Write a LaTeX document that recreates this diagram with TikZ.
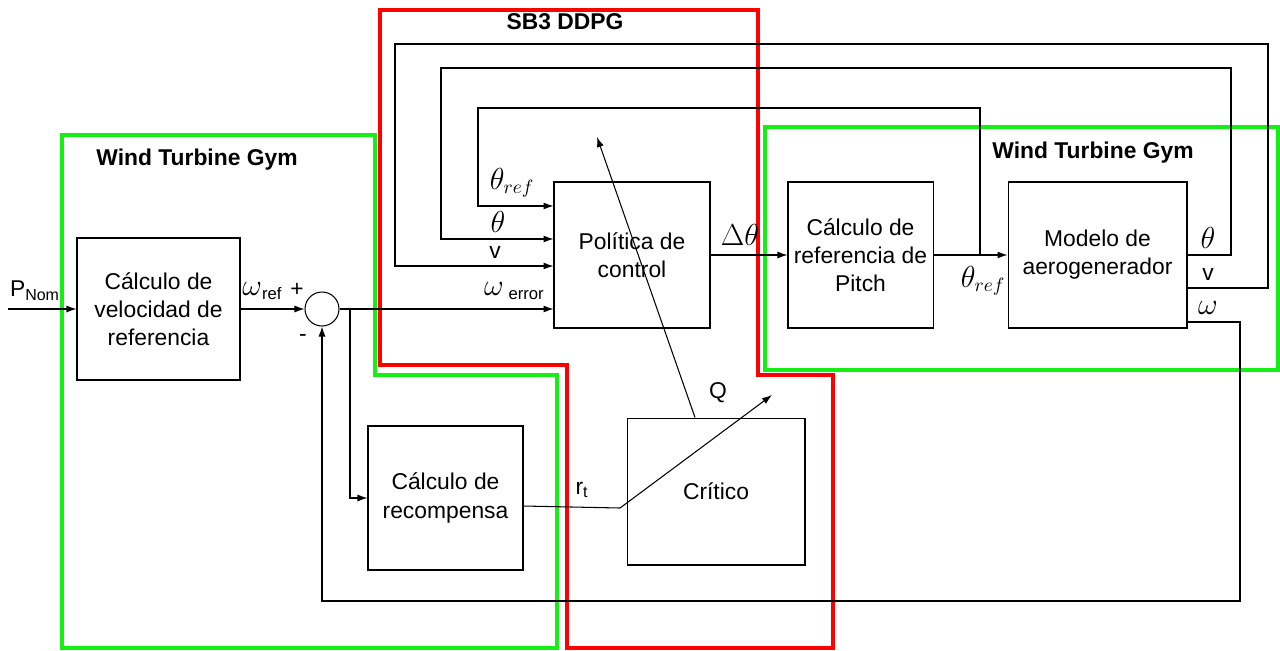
\documentclass[tikz,border=0pt]{standalone}
\usepackage{fontspec}
\setmainfont{Liberation Sans}
\usetikzlibrary{arrows.meta,calc}
\definecolor{zred}{RGB}{255,0,0}
\definecolor{zgreen}{RGB}{20,240,20}
\tikzset{blk/.style={draw,line width=.6pt,align=center,font=\fontsize{13}{16}\selectfont},
         sig/.style={-{Latex[length=2mm,width=1.4mm]},line width=.6pt},
         ln/.style={line width=.6pt},
         lbl/.style={font=\fontsize{13}{16}\selectfont,inner sep=0pt},
         mlbl/.style={font=\fontsize{16}{18}\selectfont,inner sep=0pt},
         zone/.style={line width=1.8pt,line join=miter}}
\newcommand{\subtxt}[1]{{\fontsize{9.5}{10}\selectfont\raisebox{-.35ex}{#1}}}

\begin{document}
\begin{tikzpicture}[x=.02cm,y=-.02cm]
  \useasboundingbox (0,0) rectangle (1280,650);
  % zones
  \draw[zone,zred] (380,10) -- (758,10) -- (758,375) -- (833,375) -- (833,648)
    -- (567,648) -- (567,365) -- (380,365) -- cycle;
  \draw[zone,zgreen] (62,135) -- (375,135) -- (375,375) -- (557,375) -- (557,648)
    -- (62,648) -- cycle;
  \draw[zone,zgreen] (1278,127) -- (765,127) -- (765,370) -- (1278,370) -- cycle;
  \node[lbl,font=\fontsize{13}{16}\selectfont\bfseries] (gymL) at (197,160) {Wind Turbine Gym};
  \node[lbl,font=\fontsize{13}{16}\selectfont\bfseries] (gymR) at (1093,153) {Wind Turbine Gym};
  \node[lbl,font=\fontsize{13}{16}\selectfont\bfseries] (sb3) at (565,22) {SB3 DDPG};

  % blocks
  \node[blk,minimum width=3.26cm,minimum height=2.84cm] (vref) at (158.5,309) {Cálculo de\\velocidad de\\referencia};
  \node[draw,ln,circle,inner sep=0pt,minimum size=.68cm] (sum) at (322,309) {};
  \node[blk,minimum width=3.12cm,minimum height=2.92cm] (pol) at (632,255) {Política de\\control};
  \node[blk,minimum width=2.86cm,minimum height=2.92cm] (pitch) at (860.5,255) {Cálculo de\\referencia de\\Pitch};
  \node[blk,minimum width=3.58cm,minimum height=2.92cm] (gen) at (1097.5,255) {Modelo de\\aerogenerador};
  \node[blk,minimum width=3.10cm,minimum height=2.88cm] (rew) at (445.5,498) {Cálculo de\\recompensa};
  \node[blk,minimum width=3.56cm,minimum height=2.94cm] (crit) at (716,491.5) {Crítico};

  % forward path
  \coordinate (pin) at (8,309);
  \draw[sig] (pin) -- (vref.west);
  \draw[sig] (vref.east) -- (sum.west);
  \draw[sig] (sum.east) -- (pol.west |- sum.east);
  \draw[sig] (pol.east) -- (pitch.west);
  \draw[sig] (pitch.east) -- (gen.west);
  \coordinate (brw) at (350,309);
  \draw[sig] (brw) |- (rew.west);

  % feedback loops
  \coordinate (thrJ) at (980,255);
  \draw[sig] (thrJ) |- (478,108) |- (pol.west |- 0,206);
  \draw[sig] (gen.east) -- (1231,255) |- (441,68) |- (pol.west |- 0,239);
  \draw[sig] (gen.east |- 0,288) -- (1268,288) |- (395,44) |- (pol.west |- 0,266);
  \draw[sig] (gen.east |- 0,322) -- (1240,322) |- (sum.south |- 0,601) -- (sum.south);

  % reward and critic
  \coordinate (rk) at (620,508);
  \coordinate (rtip) at (772,395);
  \draw[sig] (rew.east |- 0,506) -- (rk) -- (rtip);
  \coordinate (qs) at (crit.north -| 695,0);
  \coordinate (qtip) at (597,137);
  \draw[sig] (qs) -- (qtip);

  % labels
  \node[lbl] (lpn) at (35,291) {P\textsubscript{Nom}};
  \node[mlbl] (lwr) at (262,291) {$\omega$\subtxt{ref}};
  \node[lbl] (lplus) at (297,290) {+};
  \node[lbl] (lminus) at (303,338) {-};
  \node[mlbl] (lwe) at (514,291) {$\omega$\,\subtxt{error}};
  \node[mlbl] (lthr) at (512,183) {$\theta_{ref}$};
  \node[mlbl] (lth) at (498,222) {$\theta$};
  \node[lbl] (lv) at (495,252) {v};
  \node[mlbl] (ldth) at (740,235) {$\Delta\theta$};
  \node[mlbl] (lthr2) at (983,281) {$\theta_{ref}$};
  \node[mlbl] (lth2) at (1208,238) {$\theta$};
  \node[lbl] (lv2) at (1208,274) {v};
  \node[mlbl] (lw2) at (1208,308) {$\omega$};
  \node[lbl] (lq) at (718,393) {Q};
  \node[lbl] (lrt) at (582,490) {r\textsubscript{t}};
\end{tikzpicture}
\end{document}
